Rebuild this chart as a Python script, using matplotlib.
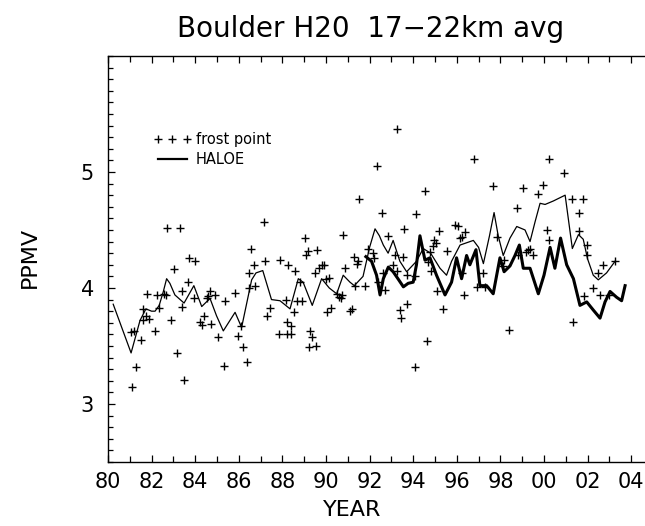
import numpy as np
import matplotlib
matplotlib.use("Agg")
import matplotlib.pyplot as plt
from matplotlib.lines import Line2D
from matplotlib.ticker import MultipleLocator, FixedLocator, FuncFormatter

# frost point balloon soundings (year as 80..104, ppmv)
fp_year = [81.09, 81.28, 81.06, 81.19, 81.51, 81.59, 81.90, 81.62, 81.74, 81.80,
           82.25, 82.16, 82.35, 82.57, 82.66, 82.72, 82.89, 83.03, 83.18, 83.30,
           83.41, 83.39, 83.51, 83.65, 83.73, 84.00, 83.94, 84.22, 84.30, 84.40,
           84.71, 84.52, 84.60, 84.70, 84.90, 85.03, 85.34, 85.37, 85.83, 85.95,
           86.09, 86.20, 86.36, 86.47, 86.57, 86.71, 86.74, 87.16, 87.22, 87.28,
           87.43, 87.83, 87.89, 88.17, 88.20, 88.38, 88.20, 88.38, 88.27, 88.59,
           88.55, 88.68, 88.91, 88.81, 89.02, 89.08, 89.17, 89.60, 89.27, 89.34,
           89.20, 89.54, 89.50, 89.70, 89.90, 90.03, 90.21, 90.15, 90.52, 90.61,
           90.71, 90.76, 90.87, 91.18, 91.10, 91.30, 91.45, 91.33, 91.50, 90.72,
           91.40, 91.79, 91.94, 92.17, 92.21, 92.32, 92.55, 92.73, 92.86, 92.63,
           92.40, 93.08, 93.24, 93.17, 93.27, 93.39, 93.44, 93.70, 93.55, 93.70,
           93.59, 94.08, 94.08, 94.13, 94.54, 94.65, 94.77, 94.69, 94.84, 94.96,
           95.05, 94.92, 95.07, 95.19, 95.38, 95.56, 95.92, 96.07, 96.15, 96.22,
           96.38, 96.33, 96.22, 96.80, 96.94, 97.20, 97.29, 97.67, 97.83, 98.13,
           98.17, 98.41, 98.74, 98.82, 99.02, 99.17, 99.25, 99.36, 99.48, 99.71,
           99.94, 100.12, 100.23, 100.24, 100.93, 101.31, 101.30, 101.60, 101.62, 101.80,
           101.84, 101.95, 101.98, 102.26, 102.49, 102.57, 102.72, 103.00, 103.26, 86.48,
           89.80, 90.00]
fp_ppmv = [3.15, 3.32, 3.62, 3.63, 3.55, 3.72, 3.73, 3.82, 3.76, 3.95,
           3.94, 3.63, 3.83, 3.95, 3.94, 4.52, 3.72, 4.16, 3.44, 4.52,
           3.97, 3.84, 3.21, 4.05, 4.26, 4.23, 3.91, 3.71, 3.68, 3.76,
           3.69, 3.91, 3.93, 3.97, 3.94, 3.58, 3.33, 3.89, 3.96, 3.59,
           3.67, 3.49, 3.36, 4.00, 4.34, 4.20, 4.02, 4.57, 4.23, 3.76,
           3.83, 3.60, 4.24, 3.90, 3.71, 3.67, 3.60, 3.60, 4.20, 4.15,
           3.79, 3.89, 3.89, 4.05, 4.43, 4.28, 4.32, 4.33, 3.63, 3.58,
           3.49, 3.50, 4.13, 4.17, 4.20, 3.79, 3.83, 4.09, 3.95, 3.92,
           3.91, 4.46, 4.17, 3.82, 3.80, 4.27, 4.23, 4.02, 4.77, 3.94,
           4.21, 4.02, 4.34, 4.30, 4.26, 5.05, 4.65, 3.98, 4.45, 4.13,
           4.05, 4.20, 4.15, 4.28, 5.37, 3.81, 3.74, 3.86, 4.27, 4.11,
           4.51, 4.10, 3.32, 4.64, 4.84, 3.54, 4.31, 4.22, 4.15, 4.41,
           4.39, 4.36, 3.97, 4.49, 3.82, 4.32, 4.54, 4.53, 4.43, 4.44,
           4.48, 3.94, 4.13, 5.11, 4.01, 4.13, 4.01, 4.88, 4.44, 4.19,
           4.24, 3.64, 4.69, 4.28, 4.86, 4.31, 4.33, 4.34, 4.28, 4.81,
           4.89, 4.50, 4.41, 5.11, 4.99, 3.71, 4.77, 4.65, 4.49, 4.77,
           3.93, 4.37, 4.28, 4.00, 4.13, 3.94, 4.20, 3.94, 4.23, 4.13,
           4.20, 4.08]

# smoothed frost point curve
avg_year = [80.24, 81.06, 81.47, 81.74, 82.00, 82.16, 82.35, 82.54, 82.69, 82.84,
            83.07, 83.49, 83.94, 84.30, 84.68, 84.98, 85.29, 85.83, 86.13, 86.59,
            86.79, 87.10, 87.50, 87.89, 88.35, 88.73, 88.95, 89.37, 89.80, 90.15,
            90.49, 90.79, 91.10, 91.30, 91.70, 92.00, 92.25, 92.45, 92.63, 92.85,
            93.08, 93.39, 93.70, 94.15, 94.46, 94.80, 95.23, 95.53, 95.76, 96.15,
            96.76, 97.00, 97.22, 97.50, 97.71, 97.90, 98.13, 98.44, 98.75, 99.13,
            99.36, 99.59, 99.82, 100.05, 100.43, 100.97, 101.30, 101.58, 101.80, 102.00,
            102.26, 102.49, 102.87, 103.26]
avg_ppmv = [3.86, 3.44, 3.72, 3.82, 3.80, 3.80, 3.85, 3.97, 4.08, 4.04,
            3.94, 3.87, 4.02, 3.84, 3.91, 3.76, 3.63, 3.79, 3.66, 4.07,
            4.13, 4.15, 3.90, 3.89, 3.82, 4.08, 4.05, 3.85, 4.08, 4.00,
            3.95, 4.11, 4.05, 4.02, 4.10, 4.35, 4.51, 4.45, 4.37, 4.30,
            4.41, 4.23, 4.14, 4.23, 4.34, 4.30, 4.17, 4.11, 4.23, 4.37,
            4.41, 4.35, 4.21, 4.45, 4.65, 4.45, 4.28, 4.43, 4.53, 4.50,
            4.40, 4.57, 4.73, 4.72, 4.75, 4.80, 4.34, 4.46, 4.42, 4.25,
            4.11, 4.07, 4.13, 4.23]

# HALOE
haloe_year = [91.83, 92.09, 92.32, 92.48, 92.63, 92.86, 93.08, 93.30, 93.55, 93.77,
              94.00, 94.15, 94.31, 94.54, 94.77, 95.07, 95.46, 95.76, 95.99, 96.22,
              96.45, 96.60, 96.88, 97.06, 97.37, 97.67, 97.98, 98.17, 98.44, 98.67,
              98.87, 99.05, 99.36, 99.74, 100.00, 100.28, 100.50, 100.76, 101.04, 101.35,
              101.65, 101.96, 102.26, 102.57, 102.80, 103.03, 103.33, 103.56, 103.72]
haloe_ppmv = [4.27, 4.23, 4.11, 3.94, 4.08, 4.18, 4.14, 4.08, 4.01, 4.04,
              4.05, 4.20, 4.45, 4.24, 4.26, 4.11, 3.94, 4.05, 4.26, 4.08,
              4.28, 4.20, 4.33, 4.02, 4.02, 3.95, 4.26, 4.14, 4.19, 4.28,
              4.37, 4.17, 4.17, 3.95, 4.11, 4.35, 4.17, 4.43, 4.20, 4.08,
              3.85, 3.88, 3.81, 3.74, 3.88, 3.97, 3.92, 3.89, 4.02]

y_labels = [3, 4, 5]

plt.rcParams['font.family'] = ['DejaVu Sans']

fig = plt.figure(figsize=(6.45, 5.26), dpi=100)
ax = fig.add_axes([0.1674, 0.1217, 0.845, 0.7719])

ax.plot(fp_year, fp_ppmv, linestyle='none', marker='+', ms=6, mew=1.0, color='black')
ax.plot(avg_year, avg_ppmv, color='black', lw=0.9)
ax.plot(haloe_year, haloe_ppmv, color='black', lw=2.2)

ax.set_xlim(80, 105)
ax.set_ylim(2.5, 6.0)
ax.xaxis.set_major_locator(MultipleLocator(2))
ax.xaxis.set_minor_locator(MultipleLocator(1))
ax.xaxis.set_major_formatter(FuncFormatter(lambda v, p: '%02d' % (int(round(v)) % 100)))
ax.yaxis.set_major_locator(FixedLocator(y_labels))
ax.yaxis.set_minor_locator(MultipleLocator(0.1))
ax.tick_params(axis='both', which='both', direction='in', top=True, right=False)
ax.tick_params(axis='x', which='major', length=5, width=0.9, labelsize=15, pad=7)
ax.tick_params(axis='x', which='minor', length=4, width=0.9)
ax.tick_params(axis='y', which='major', length=5, width=0.9, labelsize=15, pad=10)
ax.tick_params(axis='y', which='minor', length=3.5, width=0.9)
for s in ax.spines.values():
    s.set_linewidth(1.0)

fig.text(352 / 645, 1 - 510 / 526, 'YEAR', ha='center', va='center', fontsize=16)
fig.text(30 / 645, 1 - 257 / 526, 'PPMV', ha='center', va='center', rotation=90, fontsize=16)
fig.text(371 / 645, 1 - 29 / 526, 'Boulder H20  17\u221222km avg', ha='center', va='center',
         fontsize=20)

handles = [Line2D([], [], linestyle='none', marker='+', ms=6, mew=1.0, color='black'),
           Line2D([], [], color='black', lw=1.6)]
ax.legend(handles, ['frost point', 'HALOE'], loc='upper left', bbox_to_anchor=(0.07, 0.83),
          frameon=False, numpoints=3, handlelength=2.6, handletextpad=0.3,
          labelspacing=0.35, fontsize=10.5, borderpad=0)

fig.savefig('out.png', dpi=100)
